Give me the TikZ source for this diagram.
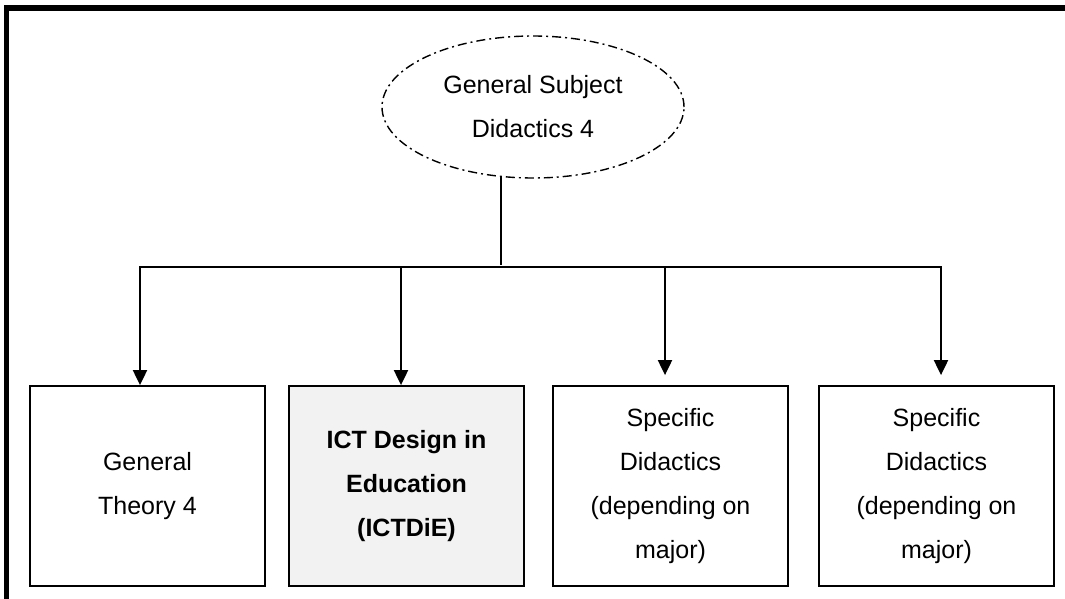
\documentclass[tikz,border=0pt]{standalone}
\usepackage{fontspec}
\setmainfont{Liberation Sans}
\usetikzlibrary{arrows.meta,shapes.geometric}
\definecolor{boxgray}{RGB}{242,242,242}
\begin{document}
\begin{tikzpicture}[x=1pt,y=-1pt,
  label text/.style={font=\fontsize{25}{44}\selectfont, align=center, text=black},
  course/.style={label text, draw=black, line width=1.8pt, rectangle,
    minimum width=235pt, minimum height=200pt, inner sep=0pt},
  topic/.style={label text, draw=black, line width=1.4pt, ellipse,
    minimum width=302pt, minimum height=142pt, inner sep=0pt,
    dash pattern=on 9pt off 4pt on 2pt off 4pt},
  link/.style={line width=2pt, draw=black},
  tip/.style={-{Triangle[width=14pt,length=15pt]}}]
\useasboundingbox (0,0) rectangle (1065,599);
% outer frame: top and left edges only
\draw[line width=5.5pt, line join=miter] (1065,7.8) -- (6.7,7.8) -- (6.7,599);

% parent topic
\node[topic] (top) at (533,107) {General Subject\\Didactics 4};

% courses
\node[course] (b1) at (147.5,486) {General\\Theory 4};
\node[course, fill=boxgray, font=\fontsize{25}{44}\selectfont\bfseries] (b2) at (406.5,486) {ICT Design in\\Education\\(ICTDiE)};
\node[course] (b3) at (670.5,486) {Specific\\Didactics\\(depending on\\major)};
\node[course] (b4) at (936.5,486) {Specific\\Didactics\\(depending on\\major)};

% distribution bus
\coordinate (j)  at (501,267);
\coordinate (t1) at (140,267);
\coordinate (t2) at (401,267);
\coordinate (t3) at (665,267);
\coordinate (t4) at (941,267);

% stem leaves the ellipse a little left of its lowest point
\draw[link] (j |- top.245) -- ([yshift=2pt]j);
\draw[link, {Triangle[width=14pt,length=15pt]}-{Triangle[width=14pt,length=15pt]}, shorten >=10pt]
  (t1 |- b1.north) -- (t1) -- (t4) -- (t4 |- b4.north);
\draw[link, tip] (t2) -- (t2 |- b2.north);
\draw[link, tip, shorten >=10pt] (t3) -- (t3 |- b3.north);
\end{tikzpicture}
\end{document}
